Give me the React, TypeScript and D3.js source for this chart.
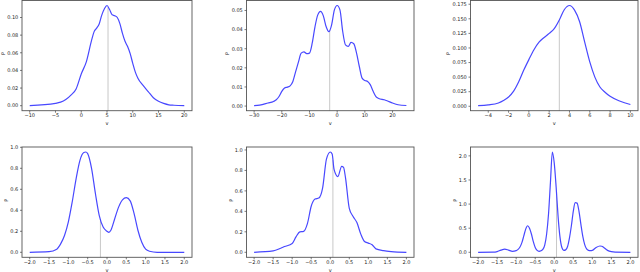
import React, { useEffect, useRef } from "react";
import * as d3 from "d3";

// panel 1
const p1X = [-10, -5, -4, -3, -2, -1, 0, 1, 2, 2.5, 3, 3.5, 4, 4.5, 5, 5.5, 6, 6.5, 7, 7.5, 8, 8.5, 9, 9.5, 10, 10.5, 11, 12, 13, 14, 15, 16, 17, 18, 20];
const p1Y = [0, 0.0026, 0.004, 0.007, 0.012, 0.019, 0.036, 0.05, 0.074, 0.084, 0.088, 0.093, 0.103, 0.11, 0.1136, 0.109, 0.103, 0.102, 0.1, 0.093, 0.082, 0.073, 0.067, 0.059, 0.048, 0.038, 0.031, 0.023, 0.016, 0.009, 0.005, 0.0026, 0.001, 0.0005, 0];

// panel 2
const p2X = [-30, -28, -25, -23, -22, -21, -20, -19, -18, -17, -16, -15, -14, -13, -12, -11, -10, -9, -8, -7, -6, -5, -4, -3, -2, -1, 0, 1, 2, 3, 4, 5, 6, 7, 8, 9, 10, 11, 12, 13, 14, 15, 17, 18, 20, 22, 25];
const p2Y = [0.0002, 0.0005, 0.0016, 0.0024, 0.0033, 0.005, 0.0077, 0.0094, 0.0099, 0.0106, 0.0129, 0.018, 0.023, 0.0277, 0.0284, 0.0274, 0.0277, 0.033, 0.0416, 0.0477, 0.0495, 0.0472, 0.0416, 0.0389, 0.0425, 0.0503, 0.0526, 0.0503, 0.039, 0.032, 0.0312, 0.0333, 0.0326, 0.0277, 0.0207, 0.0146, 0.0134, 0.0129, 0.0111, 0.0077, 0.005, 0.004, 0.0033, 0.0028, 0.0016, 0.0007, 0.0003];

// panel 3
const p3X = [-5, -4, -3, -2.5, -2, -1.5, -1, -0.5, 0, 0.5, 1, 1.5, 2, 2.5, 3, 3.5, 4, 4.5, 5, 5.5, 6, 6.5, 7, 7.5, 8, 9, 10];
const p3Y = [0.001, 0.0023, 0.0057, 0.01, 0.016, 0.026, 0.042, 0.062, 0.08, 0.097, 0.11, 0.118, 0.125, 0.133, 0.148, 0.166, 0.1728, 0.165, 0.145, 0.11, 0.076, 0.05, 0.033, 0.024, 0.017, 0.0086, 0.003];

// panel 4
const p4X = [-2, -1.5, -1.3, -1.2, -1.1, -1, -0.9, -0.8, -0.7, -0.6, -0.55, -0.5, -0.4, -0.3, -0.2, -0.1, 0, 0.05, 0.1, 0.2, 0.3, 0.4, 0.5, 0.6, 0.7, 0.8, 0.9, 1, 1.1, 1.3, 2];
const p4Y = [0, 0.006, 0.03, 0.08, 0.16, 0.29, 0.48, 0.7, 0.876, 0.95, 0.955, 0.94, 0.8, 0.56, 0.35, 0.24, 0.2, 0.19, 0.21, 0.32, 0.43, 0.5, 0.52, 0.49, 0.37, 0.21, 0.095, 0.03, 0.01, 0, 0];

// panel 5
const p5X = [-2, -1.5, -1.3, -1.2, -1, -0.9, -0.8, -0.7, -0.6, -0.5, -0.4, -0.3, -0.2, -0.1, 0, 0.05, 0.1, 0.2, 0.3, 0.35, 0.4, 0.5, 0.6, 0.7, 0.8, 0.9, 1, 1.1, 1.2, 1.4, 1.6, 2];
const p5Y = [0, 0.013, 0.04, 0.056, 0.086, 0.15, 0.2, 0.205, 0.28, 0.45, 0.52, 0.53, 0.63, 0.91, 0.98, 0.96, 0.81, 0.74, 0.84, 0.83, 0.73, 0.43, 0.35, 0.29, 0.18, 0.105, 0.09, 0.073, 0.033, 0.016, 0.007, 0];

// panel 6
const p6X = [-2, -1.6, -1.5, -1.4, -1.3, -1.2, -1.1, -1, -0.95, -0.9, -0.85, -0.8, -0.75, -0.7, -0.65, -0.6, -0.55, -0.5, -0.45, -0.4, -0.35, -0.3, -0.25, -0.2, -0.15, -0.1, -0.05, 0, 0.05, 0.1, 0.15, 0.2, 0.25, 0.3, 0.35, 0.4, 0.45, 0.5, 0.55, 0.6, 0.65, 0.7, 0.75, 0.8, 0.85, 0.9, 0.95, 1, 1.1, 1.2, 1.25, 1.3, 1.4, 1.5, 1.6, 2];
const p6Y = [0, 0.003, 0.015, 0.045, 0.065, 0.045, 0.02, 0.035, 0.06, 0.11, 0.2, 0.34, 0.48, 0.55, 0.5, 0.38, 0.22, 0.1, 0.04, 0.02, 0.03, 0.06, 0.15, 0.38, 0.8, 1.45, 2.08, 1.85, 1.35, 0.75, 0.32, 0.1, 0.04, 0.05, 0.12, 0.3, 0.55, 0.85, 1.03, 1.02, 0.85, 0.58, 0.33, 0.16, 0.07, 0.04, 0.035, 0.04, 0.1, 0.13, 0.125, 0.1, 0.04, 0.012, 0.003, 0];

const means = [5.2, -2.7, 3.0, -0.17, 0.07, 0.06];

const xTicks = [
  [-10, -5, 0, 5, 10, 15, 20],
  [-30, -20, -10, 0, 10, 20],
  [-4, -2, 0, 2, 4, 6, 8, 10],
  [-2, -1.5, -1, -0.5, 0, 0.5, 1, 1.5, 2],
  [-2, -1.5, -1, -0.5, 0, 0.5, 1, 1.5, 2],
  [-2, -1.5, -1, -0.5, 0, 0.5, 1, 1.5, 2],
];
const xFormats = [".0f", ".0f", ".0f", ".1f", ".1f", ".1f"];
const yTicks = [
  [0, 0.02, 0.04, 0.06, 0.08, 0.1],
  [0, 0.01, 0.02, 0.03, 0.04, 0.05],
  [0, 0.025, 0.05, 0.075, 0.1, 0.125, 0.15, 0.175],
  [0, 0.2, 0.4, 0.6, 0.8, 1.0],
  [0, 0.2, 0.4, 0.6, 0.8, 1.0],
  [0, 0.5, 1.0, 1.5, 2.0],
];
const yFormats = [".2f", ".2f", ".3f", ".1f", ".1f", ".1f"];

const xs = [p1X, p2X, p3X, p4X, p5X, p6X];
const ys = [p1Y, p2Y, p3Y, p4Y, p5Y, p6Y];

// axes boxes
const colLeft = [22, 246.5, 470.5];
const colRight = [192, 414, 638];
const rowTop = [0.5, 147];
const rowBottom = [110.7, 257.3];

const W = 640;
const H = 272;
const FONT = "DejaVu Sans";
const fs = 5;

const App = () => {
  const ref = useRef<SVGSVGElement>(null);

  useEffect(() => {
    const svg = d3.select(ref.current);
    svg.selectAll("*").remove();

    xs.forEach((xv, i) => {
      const col = i % 3;
      const row = Math.floor(i / 3);
      const yv = ys[i];
      const x0 = colLeft[col], x1 = colRight[col];
      const y0 = rowTop[row], y1 = rowBottom[row];

      // 5% margins like matplotlib
      const [xmin, xmax] = d3.extent(xv) as [number, number];
      const [ymin, ymax] = d3.extent(yv) as [number, number];
      const dx = (xmax - xmin) * 0.05;
      const dy = (ymax - ymin) * 0.05;
      const x = d3.scaleLinear().domain([xmin - dx, xmax + dx]).range([x0, x1]);
      const y = d3.scaleLinear().domain([ymin - dy, ymax + dy]).range([y1, y0]);

      const g = svg.append("g");

      // mean marker: from axis bottom up to the curve
      const m = means[i];
      const k = d3.bisectLeft(xv, m);
      const t = (m - xv[k - 1]) / (xv[k] - xv[k - 1]);
      const hv = yv[k - 1] + t * (yv[k] - yv[k - 1]);
      g.append("line")
        .attr("x1", x(m)).attr("x2", x(m))
        .attr("y1", y1).attr("y2", y(hv))
        .attr("stroke", "#c8c8c8")
        .attr("stroke-width", 1);

      const line = d3.line<number>()
        .x((d, j) => x(xv[j]))
        .y((d) => y(d))
        .curve(d3.curveMonotoneX);

      g.append("path")
        .attr("d", line(yv))
        .attr("fill", "none")
        .attr("stroke", "#4848ff")
        .attr("stroke-width", 1.2);

      g.append("rect")
        .attr("x", x0).attr("y", y0)
        .attr("width", x1 - x0).attr("height", y1 - y0)
        .attr("fill", "none")
        .attr("stroke", "#555")
        .attr("stroke-width", 0.9);

      // x ticks
      const xf = d3.format(xFormats[i]);
      xTicks[i].forEach((v) => {
        g.append("line")
          .attr("x1", x(v)).attr("x2", x(v))
          .attr("y1", y1).attr("y2", y1 + 2)
          .attr("stroke", "#444").attr("stroke-width", 0.7);
        g.append("text")
          .attr("x", x(v)).attr("y", y1 + 6.5)
          .attr("text-anchor", "middle")
          .attr("font-family", FONT).attr("font-size", fs)
          .attr("fill", "#222")
          .text(xf(v).replace("-", "\u2212"));
      });

      // y ticks
      const yf = d3.format(yFormats[i]);
      let maxW = 0;
      yTicks[i].forEach((v) => {
        g.append("line")
          .attr("x1", x0 - 2).attr("x2", x0)
          .attr("y1", y(v)).attr("y2", y(v))
          .attr("stroke", "#444").attr("stroke-width", 0.7);
        const tx = g.append("text")
          .attr("x", x0 - 3.7).attr("y", y(v) + 1.8)
          .attr("text-anchor", "end")
          .attr("font-family", FONT).attr("font-size", fs)
          .attr("fill", "#222")
          .text(yf(v));
        const n = tx.node() as SVGTextElement;
        maxW = Math.max(maxW, n.getComputedTextLength());
      });

      g.append("text")
        .attr("x", (x0 + x1) / 2).attr("y", y1 + 14.5)
        .attr("text-anchor", "middle")
        .attr("font-family", FONT).attr("font-size", fs)
        .attr("fill", "#222")
        .text("v");

      // y label, centred on its glyph
      const ly = (y0 + y1) / 2 - 2;
      const lx = Math.max(2.6, x0 - 3.7 - maxW - 4);
      g.append("text")
        .attr("transform", `translate(${lx},${ly}) rotate(-90)`)
        .attr("dy", "0.36em")
        .attr("text-anchor", "middle")
        .attr("font-family", FONT).attr("font-size", fs)
        .attr("fill", "#222")
        .text("P");
    });
  }, []);

  return (
    <svg
      ref={ref}
      width={W}
      height={H}
      style={{ position: "absolute", left: 0, top: 0, background: "#fff" }}
    />
  );
};

export default App;
